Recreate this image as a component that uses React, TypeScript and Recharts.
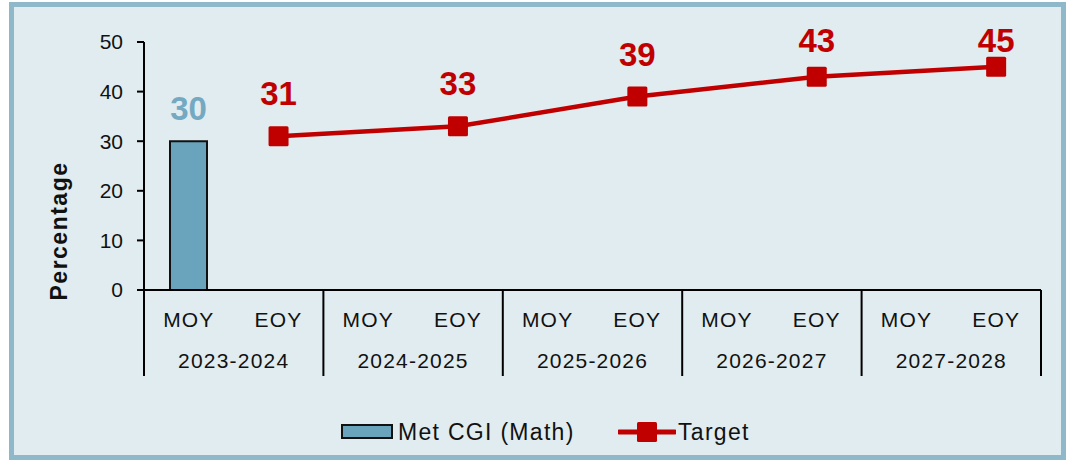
import React from 'react';
import { ComposedChart, Bar, Line, XAxis, YAxis, Legend, LabelList } from 'recharts';

const years = ['2023-2024', '2024-2025', '2025-2026', '2026-2027', '2027-2028'];
const periods = ['MOY', 'EOY'];
const metCGI: (number | null)[] = [30, null, null, null, null, null, null, null, null, null];
const target: (number | null)[] = [null, 31, null, 33, null, 39, null, 43, null, 45];
const yTicks = [0, 10, 20, 30, 40, 50];

const data = years.flatMap((yr, yi) =>
  periods.map((p, pi) => ({
    slot: `${yr}|${p}`,
    year: yr,
    period: p,
    met: metCGI[yi * 2 + pi],
    target: target[yi * 2 + pi],
  }))
);

const W = 1047;
const H = 448;
const M = { top: 35, right: 20, left: 60, bottom: 75 };
const Y_W = 70;
const plotW = W - M.left - Y_W - M.right;
const half = plotW / data.length / 2;

const BLUE = '#6aa4bc';
const RED = '#c00000';
const FONT = '"Liberation Sans", Arial, sans-serif';

const XTick = (props: any) => {
  const { x, y, payload, index } = props;
  const [yr, p] = String(payload.value).split('|');
  return (
    <g>
      <text x={x} y={y + 37} textAnchor="middle" fontSize={21} letterSpacing={1.2} fill="#111" fontFamily={FONT}>
        {p}
      </text>
      {index % 2 === 1 && (
        <text x={x - half} y={y + 78} textAnchor="middle" fontSize={21} letterSpacing={1.2} fill="#111" fontFamily={FONT}>
          {yr}
        </text>
      )}
      {index === 0 && <line x1={x - half} x2={x - half} y1={y} y2={y + 86} stroke="#000" strokeWidth={2} />}
      {index % 2 === 1 && <line x1={x + half} x2={x + half} y1={y} y2={y + 86} stroke="#000" strokeWidth={2} />}
    </g>
  );
};

const SquareDot = (props: any) => {
  const { cx, cy, value } = props;
  if (value == null || cx == null || cy == null) return null;
  return <rect x={cx - 10} y={cy - 10} width={20} height={20} fill={RED} rx={1.5} />;
};

const LineLabel = (props: any) => {
  const { x, y, value } = props;
  if (value == null) return null;
  const ty = Math.max(y - 31, 45);
  return (
    <text x={x} y={ty} textAnchor="middle" fontSize={33} fontWeight="bold" fill={RED} fontFamily={FONT}>
      {value}
    </text>
  );
};

const BarLabel = (props: any) => {
  const { x, y, width, value } = props;
  if (value == null) return null;
  return (
    <text x={x + width / 2} y={y - 21} textAnchor="middle" fontSize={33} fontWeight="bold" fill="#74a9c1" fontFamily={FONT}>
      {value}
    </text>
  );
};

const LegendContent = () => (
  <div style={{ position: 'relative', width: 460, height: 30, fontFamily: FONT, fontSize: 23, color: '#111', letterSpacing: 1.3 }}>
    <div style={{ position: 'absolute', left: 0, top: 7, width: 52, height: 15, background: BLUE, border: '2px solid #111', boxSizing: 'border-box' }} />
    <div style={{ position: 'absolute', left: 57, top: 1, whiteSpace: 'nowrap', lineHeight: '28px' }}>Met CGI (Math)</div>
    <svg style={{ position: 'absolute', left: 277, top: 4 }} width={58} height={22}>
      <line x1={1} x2={57} y1={11} y2={11} stroke={RED} strokeWidth={5} strokeLinecap="round" />
      <rect x={19} y={1} width={20} height={20} fill={RED} rx={1.5} />
    </svg>
    <div style={{ position: 'absolute', left: 337, top: 1, whiteSpace: 'nowrap', lineHeight: '28px' }}>Target</div>
  </div>
);

export default function App() {
  return (
    <div
      style={{
        position: 'absolute',
        left: 9,
        top: 2,
        width: 1057,
        height: 458,
        boxSizing: 'border-box',
        border: '5px solid #8fb8c8',
        background: '#e0ecef',
      }}
    >
      <ComposedChart width={W} height={H} data={data} margin={M}>
        <XAxis
          dataKey="slot"
          interval={0}
          tickSize={0}
          tickMargin={0}
          height={90}
          axisLine={{ stroke: '#000', strokeWidth: 2 }}
          tickLine={false}
          tick={<XTick />}
        />
        <YAxis
          domain={[0, 50]}
          ticks={yTicks}
          width={Y_W}
          tickSize={7}
          tickMargin={14}
          axisLine={{ stroke: '#000', strokeWidth: 2 }}
          tickLine={{ stroke: '#000', strokeWidth: 2 }}
          tick={{ fontSize: 21, fill: '#111', fontFamily: FONT }}
          label={{
            content: () => (
              <text
                x={45}
                y={224}
                transform="rotate(-90 45 224)"
                textAnchor="middle"
                dominantBaseline="central"
                fontSize={23}
                fontWeight="bold"
                letterSpacing={1.5}
                fill="#111"
                fontFamily={FONT}
              >
                Percentage
              </text>
            ),
          }}
        />
        <Bar dataKey="met" name="Met CGI (Math)" fill={BLUE} stroke="#111" strokeWidth={2} barSize={37} isAnimationActive={false}>
          <LabelList dataKey="met" content={<BarLabel />} />
        </Bar>
        <Line
          dataKey="target"
          name="Target"
          stroke={RED}
          strokeWidth={4.5}
          connectNulls
          dot={<SquareDot />}
          activeDot={false}
          isAnimationActive={false}
        >
          <LabelList dataKey="target" content={<LineLabel />} />
        </Line>
        <Legend
          verticalAlign="middle"
          layout="horizontal"
          content={<LegendContent />}
          wrapperStyle={{ top: 410, left: 327, width: 460, height: 30, bottom: 'auto', right: 'auto' }}
        />
      </ComposedChart>
    </div>
  );
}
